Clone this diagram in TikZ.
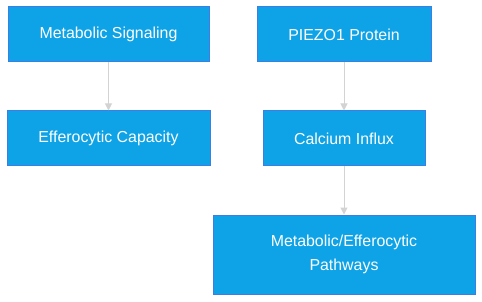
\documentclass[tikz,border=0pt]{standalone}
\usepackage{fontspec}
\setmainfont{Liberation Sans}
\usetikzlibrary{arrows.meta,positioning}
\definecolor{boxfill}{RGB}{14,163,230}
\definecolor{boxline}{RGB}{62,124,232}
\definecolor{linkgrau}{RGB}{211,211,211}
\begin{document}
\begin{tikzpicture}[
        x=1pt, y=-1pt,
        >={Triangle[length=7pt,width=7pt]},
        stepbox/.style={draw=boxline, line width=1pt, fill=boxfill, text=white, align=center, inner sep=0pt, font=\fontsize{15.9}{24}\selectfont},
        link/.style={->, draw=linkgrau, line width=1pt}
    ]
        \useasboundingbox (0,0) rectangle (482,302);
        \node[stepbox, minimum width=201pt, minimum height=55pt] (signal) at (108.5,34.5) {Metabolic Signaling};
        \node[stepbox, minimum width=203pt, minimum height=55pt] (capacity) at (108.5,138.5) {Efferocytic Capacity};
        \node[stepbox, minimum width=174pt, minimum height=55pt] (piezo) at (344,34.5) {PIEZO1 Protein};
        \node[stepbox, minimum width=162pt, minimum height=55pt] (calcium) at (344,138.5) {Calcium Influx};
        \node[stepbox, minimum width=262pt, minimum height=79pt] (pathways) at (344,254.5) {Metabolic/Efferocytic\\Pathways};
        \draw[link] (signal) -- (capacity);
        \draw[link] (piezo) -- (calcium);
        \draw[link] (calcium) -- (pathways);
    \end{tikzpicture}
\end{document}
